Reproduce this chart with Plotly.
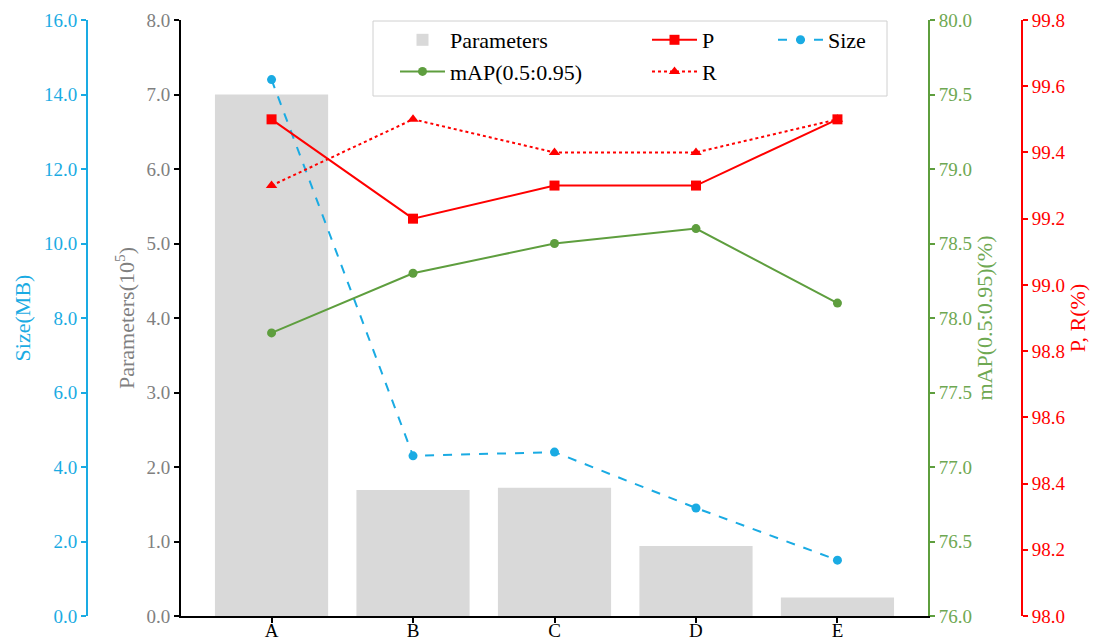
import plotly.graph_objects as go

categories = ["A", "B", "C", "D", "E"]
parameters = [7.0, 1.69, 1.72, 0.94, 0.25]      # x10^5
size_mb = [14.4, 4.3, 4.4, 2.9, 1.5]
map_vals = [77.9, 78.3, 78.5, 78.6, 78.1]
p_vals = [99.5, 99.2, 99.3, 99.3, 99.5]
r_vals = [99.3, 99.5, 99.4, 99.4, 99.5]

FONT = "Liberation Serif, Times New Roman, serif"
CYAN = "#1AABE3"
GREEN = "#5E9E3E"
GREEN_TXT = "#6EA852"
RED = "#FF0000"
GRAY_TXT = "#808080"
BAR = "#D9D9D9"

OFF = 8  # page body margin
W, H = 1098 - OFF, 641 - OFF
L_PX, R_PX, T_PX, B_PX = 181 - OFF, 928 - OFF, 20 - OFF, 616 - OFF

def xp(px):
    return (px - OFF) / W

def yp(px):
    return (B_PX - (px - OFF)) / (B_PX - T_PX)

fig = go.Figure()

fig.add_trace(go.Bar(x=categories, y=parameters, name="Parameters", marker_color=BAR,
                     marker_line_width=0, width=0.8, yaxis="y", legend="legend"))
fig.add_trace(go.Scatter(x=categories, y=map_vals, name="mAP(0.5:0.95)", mode="lines+markers",
                         line=dict(color=GREEN, width=2), marker=dict(color=GREEN, size=9, symbol="circle"),
                         yaxis="y3", legend="legend"))
fig.add_trace(go.Scatter(x=categories, y=p_vals, name="P", mode="lines+markers",
                         line=dict(color=RED, width=2), marker=dict(color=RED, size=10, symbol="square"),
                         yaxis="y4", legend="legend2"))
fig.add_trace(go.Scatter(x=categories, y=r_vals, name="R", mode="lines+markers",
                         line=dict(color=RED, width=2, dash="dot"), marker=dict(color=RED, size=10, symbol="triangle-up"),
                         yaxis="y4", legend="legend2"))
fig.add_trace(go.Scatter(x=categories, y=size_mb, name="Size", mode="lines+markers",
                         line=dict(color=CYAN, width=2, dash="dash"), marker=dict(color=CYAN, size=9, symbol="circle"),
                         yaxis="y2", legend="legend3"))

tickfont = 19
titlefont = 22

leg_common = dict(orientation="v", bgcolor="rgba(0,0,0,0)", borderwidth=0,
                  font=dict(family=FONT, size=22, color="black"),
                  yanchor="top", xanchor="left", tracegroupgap=0, itemwidth=45)

fig.update_layout(
    width=W, height=H,
    margin=dict(l=0, r=0, t=T_PX, b=H - B_PX, autoexpand=False),
    paper_bgcolor="white", plot_bgcolor="white",
    font=dict(family=FONT, size=tickfont, color="black"),
    bargap=0.2,
    xaxis=dict(domain=[L_PX / W, R_PX / W], range=[-0.64, 4.64], showgrid=False, automargin=False,
               showline=True, linecolor="black", linewidth=2, ticks="outside", ticklen=5,
               tickcolor="black", tickwidth=1.5, tickfont=dict(family=FONT, size=tickfont, color="black"),
               ticklabelstandoff=-9, zeroline=False, mirror=False),
    yaxis=dict(range=[0, 8], dtick=1, tickformat=".1f", showgrid=False, zeroline=False, automargin=False,
               showline=True, linecolor="black", linewidth=2, ticks="outside", ticklen=5,
               tickcolor="black", tickwidth=1.5,
               tickfont=dict(family=FONT, size=tickfont, color=GRAY_TXT),
               title=dict(text="Parameters(10<sup>5</sup>)", font=dict(family=FONT, size=titlefont, color=GRAY_TXT), standoff=6)),
    yaxis2=dict(range=[0, 16], dtick=2, tickformat=".1f", showgrid=False, zeroline=False, automargin=False,
                overlaying="y", anchor="free", position=xp(87), side="left", autoshift=False,
                showline=True, linecolor=CYAN, linewidth=2, ticks="outside", ticklen=5,
                tickcolor=CYAN, tickwidth=1.5,
                tickfont=dict(family=FONT, size=tickfont, color=CYAN),
                title=dict(text="Size(MB)", font=dict(family=FONT, size=titlefont, color=CYAN), standoff=6)),
    yaxis3=dict(range=[76, 80], dtick=0.5, tickformat=".1f", showgrid=False, zeroline=False, automargin=False,
                overlaying="y", anchor="x", side="right",
                showline=True, linecolor=GREEN, linewidth=2, ticks="outside", ticklen=5,
                tickcolor=GREEN, tickwidth=1.5,
                tickfont=dict(family=FONT, size=tickfont, color=GREEN_TXT),
                title=dict(text="mAP(0.5:0.95)(%)", font=dict(family=FONT, size=titlefont, color=GREEN_TXT), standoff=2)),
    yaxis4=dict(range=[98, 99.8], dtick=0.2, tickformat=".1f", showgrid=False, zeroline=False, automargin=False,
                overlaying="y", anchor="free", position=xp(1022), side="right", autoshift=False,
                showline=True, linecolor=RED, linewidth=2, ticks="outside", ticklen=5,
                tickcolor=RED, tickwidth=1.5,
                tickfont=dict(family=FONT, size=tickfont, color=RED),
                title=dict(text="P, R(%)", font=dict(family=FONT, size=titlefont, color=RED), standoff=0)),
    legend=dict(x=xp(395), y=yp(19), **leg_common),
    legend2=dict(x=xp(647), y=yp(19), **leg_common),
    legend3=dict(x=xp(773), y=yp(19), **leg_common),
    shapes=[dict(type="rect", xref="paper", yref="paper",
                 x0=xp(373), x1=xp(887), y0=yp(96), y1=yp(21),
                 line=dict(color="#D0D0D0", width=1), fillcolor="white", layer="below")],
    showlegend=True,
)

fig.write_html("out.html")
